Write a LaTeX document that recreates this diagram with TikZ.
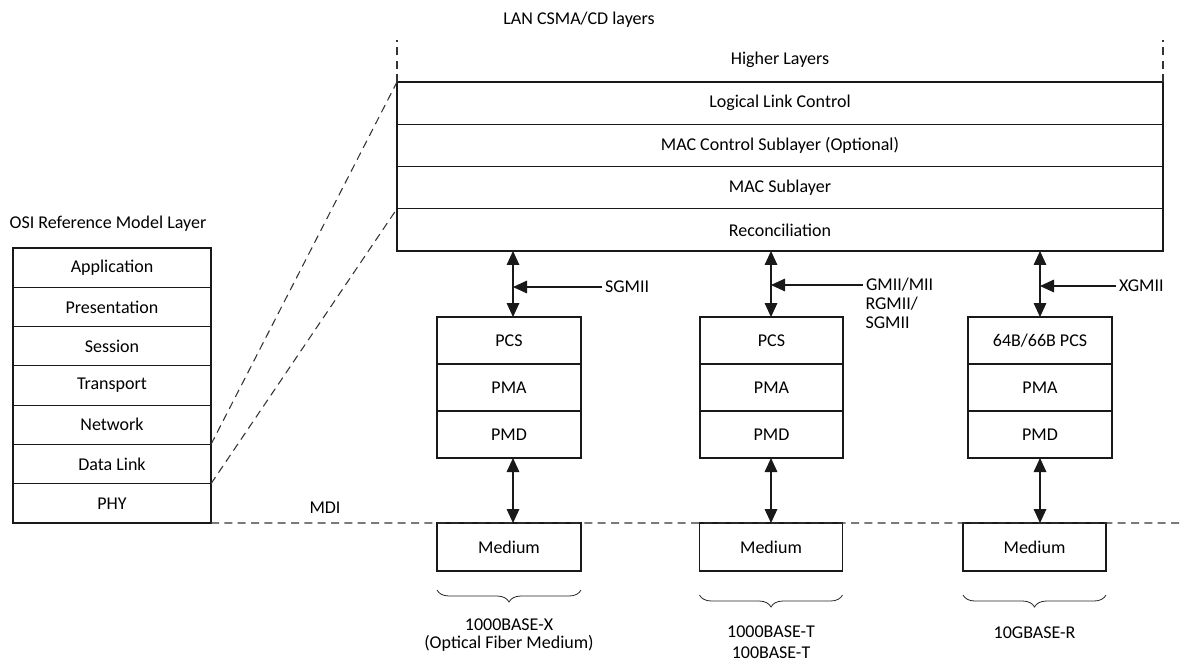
\documentclass[tikz,border=0pt]{standalone}
\usepackage{fontspec}
\setmainfont{Carlito}
\usetikzlibrary{arrows.meta,decorations.pathreplacing,positioning}
\begin{document}
\begin{tikzpicture}[x=0.75pt,y=-0.75pt,
  font=\fontsize{13.5pt}{13.5pt}\selectfont,
  box/.style={draw=black!90, line width=0.85pt, inner sep=0pt, outer sep=0pt, anchor=center},
  lbl/.style={inner sep=0pt, outer sep=0pt},
  dashline/.style={draw=black!80, line width=0.8pt, dash pattern=on 6pt off 4pt},
  biarrow/.style={draw=black!90, line width=0.8pt, {Triangle[length=10.5pt,width=9.5pt]}-{Triangle[length=10.5pt,width=9.5pt]}},
  inarrow/.style={draw=black!90, line width=0.8pt, -{Triangle[length=10.5pt,width=9.5pt]}},
  bracestyle/.style={draw=black!85, line width=0.6pt, decorate, decoration={brace, mirror, amplitude=9pt}},
  big/.style={box, minimum width=574.5pt, minimum height=31.69pt},
  osi/.style={box, minimum width=148.5pt, minimum height=29.47pt},
  phyA/.style={box, minimum width=108pt, minimum height=35.25pt},
  phyB/.style={box, minimum width=107.25pt, minimum height=35.25pt},
  med/.style={box, minimum width=108pt, minimum height=36pt}
]
\useasboundingbox (0,0) rectangle (1181,662);

% top titles
\node[lbl] (lan) at (579,20) {LAN CSMA/CD layers};
\node[lbl] (higher) at (780,60) {Higher Layers};

% LAN stack
\node[big] (llc) at (780,103.1) {Logical Link Control};
\node[big, below=0pt of llc] (macc) {MAC Control Sublayer (Optional)};
\node[big, below=0pt of macc] (mac) {MAC Sublayer};
\node[big, below=0pt of mac] (recon) {Reconciliation};

% OSI stack
\node[lbl] (osititle) at (108,224) {OSI Reference Model Layer};
\node[osi] (app) at (112,267.6) {Application};
\node[osi, below=0pt of app] (pres) {Presentation};
\node[osi, below=0pt of pres] (sess) {Session};
\node[osi, below=0pt of sess] (trans) {Transport};
\node[osi, below=0pt of trans] (net) {Network};
\node[osi, below=0pt of net] (dl) {Data Link};
\node[osi, below=0pt of dl] (phy) {PHY};

% PHY columns
\node[phyA] (pcsA) at (509,340.5) {PCS};
\node[phyA, below=0pt of pcsA] (pmaA) {PMA};
\node[phyA, below=0pt of pmaA] (pmdA) {PMD};

\node[phyB] (pcsB) at (771.5,340.5) {PCS};
\node[phyB, below=0pt of pcsB] (pmaB) {PMA};
\node[phyB, below=0pt of pmaB] (pmdB) {PMD};

\node[phyA] (pcsC) at (1040,340.5) {64B/66B PCS};
\node[phyA, below=0pt of pcsC] (pmaC) {PMA};
\node[phyA, below=0pt of pmaC] (pmdC) {PMD};

% Medium boxes
\node[med] (medA) at (509,547) {Medium};
\node[phyB, minimum height=36pt] (medB) at (771,547) {Medium};
\node[phyB, minimum height=36pt] (medC) at (1034.5,547) {Medium};

% arrow columns
\coordinate (a1) at (513,0);
\coordinate (a2) at (771,0);
\coordinate (a3) at (1040,0);

\draw[biarrow] (recon.south -| a1) -- (pcsA.north -| a1);
\draw[biarrow] (recon.south -| a2) -- (pcsB.north -| a2);
\draw[biarrow] (recon.south -| a3) -- (pcsC.north -| a3);

\draw[biarrow] (pmdA.south -| a1) -- (medA.north -| a1);
\draw[biarrow] (pmdB.south -| a2) -- (medB.north -| a2);
\draw[biarrow] (pmdC.south -| a3) -- (medC.north -| a3);

% interface labels
\node[lbl, anchor=west] (sgA) at (605,287) {SGMII};
\node[lbl, anchor=west] (gmii) at (866,285) {GMII/MII};
\node[lbl, anchor=west, align=left] (rgmii) at (865.5,312.5) {RGMII/\\[0.6pt]SGMII};
\node[lbl, anchor=west] (xg) at (1119,286) {XGMII};

\draw[inarrow] ([xshift=-2.5pt]sgA.west) -- (sgA.west -| a1);
\draw[inarrow] ([xshift=-2.5pt]gmii.west) -- (gmii.west -| a2);
\draw[inarrow] ([xshift=-2.5pt]xg.west) -- (xg.west -| a3);

% dashed lines
\coordinate (toplim) at (0,40);
\coordinate (mdiend) at (1181,523);
\draw[dashline] (llc.north west) -- (llc.north west |- toplim);
\draw[dashline] (llc.north east) -- (llc.north east |- toplim);
\draw[dashline] (net.south east) -- (llc.north west);
\draw[dashline] (dl.south east) -- (recon.north west);
\draw[dashline] (phy.south east) -- (mdiend);
\node[lbl] (mdi) at (325,508) {MDI};

% braces
\coordinate (bA) at (0,590);
\coordinate (bB) at (0,595);
\draw[bracestyle] (medA.west |- bA) -- (medA.east |- bA);
\draw[bracestyle] (medB.west |- bB) -- (medB.east |- bB);
\draw[bracestyle] (medC.west |- bB) -- (medC.east |- bB);

\node[lbl, align=center] (tA) at (509,635) {1000BASE-X\\[0.6pt](Optical Fiber Medium)};
\node[lbl, align=center] (tB) at (771,642) {1000BASE-T\\[2pt]100BASE-T};
\node[lbl] (tC) at (1034.5,633) {10GBASE-R};
\end{tikzpicture}
\end{document}
